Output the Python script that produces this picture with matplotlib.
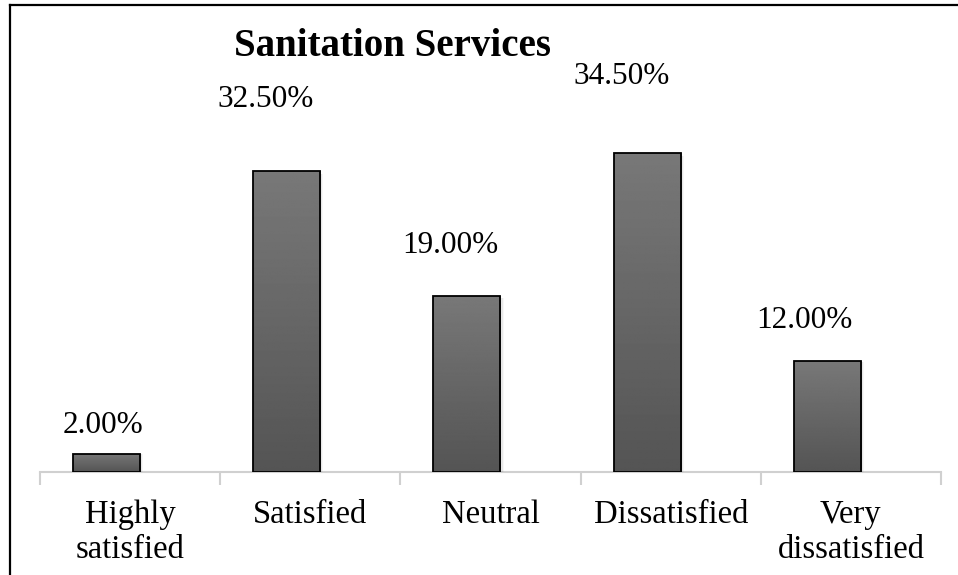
import numpy as np
import matplotlib.pyplot as plt
from matplotlib.lines import Line2D

# Survey results
categories = ['Highly\nsatisfied', 'Satisfied', 'Neutral', 'Dissatisfied', 'Very\ndissatisfied']
share = [2.0, 32.5, 19.0, 34.5, 12.0]
empty_series = [0, 0, 0, 0, 0]

# where each value label sits (baseline above bar top in % units, shift in category units)
label_rise = [2.2, 6.96, 4.68, 7.45, 3.57]
label_dx = [-0.017, -0.117, -0.094, -0.139, -0.128]

plt.rcParams['font.family'] = ['Liberation Serif', 'DejaVu Serif']

fig = plt.figure(figsize=(9.58, 5.75), dpi=100)
W, H = 958, 575
ax = fig.add_axes([40 / W, (H - 472) / H, 901 / W, 462.5 / H])

x = np.arange(len(categories))
bw = 0.372
off = 0.131

# second (empty) series only shows as a faint line on the baseline
ax.bar(x + off, empty_series, bw, color='none', edgecolor='#d0d0d0', linewidth=1, zorder=2)

bars = ax.bar(x - off, share, bw, color='none', edgecolor='black', linewidth=1.3, zorder=4)

grad = np.linspace(0, 1, 256).reshape(-1, 1)
for b in bars:
    x0, y0 = b.get_x(), b.get_y()
    w, h = b.get_width(), b.get_height()
    # soft shadow on the right side
    for k, a in enumerate([0.10, 0.06, 0.03]):
        ax.add_patch(plt.Rectangle((x0 + w, y0), 0.006 * (k + 1), h * 0.99,
                                   color='black', alpha=a, lw=0, zorder=3))
    im = ax.imshow(grad, extent=[x0, x0 + w, y0, y0 + h], aspect='auto',
                   cmap='gray', vmin=-2.36, vmax=4.78, origin='lower', zorder=3.5)
    im.set_clip_path(b)

for i, v in enumerate(share):
    ax.text(i - off + label_dx[i], v + label_rise[i], f'{v:.2f}%',
            ha='center', va='baseline', fontsize=22.5)

ax.set_xlim(-0.5, len(categories) - 0.5)
ax.set_ylim(0, 50)

ax.set_xticks(x)
ax.set_xticklabels(categories, fontsize=23.5, linespacing=1.2)
ax.set_xticks(np.arange(-0.5, len(categories)), minor=True)
ax.tick_params(axis='x', which='major', length=0, pad=20)
ax.tick_params(axis='x', which='minor', length=9, width=1.5, color='#d0d0d0')
ax.set_yticks([])
for s in ['top', 'right', 'left']:
    ax.spines[s].set_visible(False)
ax.spines['bottom'].set_color('#d0d0d0')
ax.spines['bottom'].set_linewidth(1.5)
ax.patch.set_alpha(0)

fig.text(392 / W, 1 - 56 / H, 'Sanitation Services', ha='center', va='baseline',
         fontsize=28, fontweight='bold')

# outer frame (left and top edges)
fig.add_artist(Line2D([10 / W, 10 / W], [0, 1 - 5 / H], color='black', lw=1.6))
fig.add_artist(Line2D([10 / W, 1], [1 - 5 / H, 1 - 5 / H], color='black', lw=1.6))

fig.savefig('out.png', dpi=100)
